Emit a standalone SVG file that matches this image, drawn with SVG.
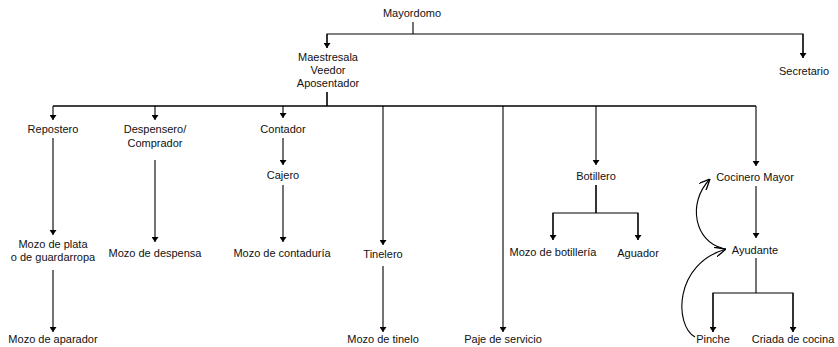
<svg xmlns="http://www.w3.org/2000/svg" width="838" height="347" viewBox="0 0 838 347">
<style>
text{font-family:"Liberation Sans",Arial,sans-serif;font-size:11px;fill:#111;text-anchor:middle}
.c line,.c polyline,.c path{stroke:#000;stroke-width:1.1;fill:none}
.c .a{marker-end:url(#ah)}
.c .o{marker-end:url(#oh)}
</style>
<defs>
<marker id="ah" viewBox="0 0 10 10" refX="10" refY="5" markerWidth="5" markerHeight="7" markerUnits="userSpaceOnUse" orient="auto" preserveAspectRatio="none"><path d="M0,0 L10,5 L0,10 Z" fill="#000"/></marker>
<marker id="oh" viewBox="0 0 10 10" refX="10" refY="5" markerWidth="11" markerHeight="10" markerUnits="userSpaceOnUse" orient="auto" preserveAspectRatio="none"><path d="M0,0 L10,5 L0,10" fill="none" stroke="#000" stroke-width="1.3"/></marker>
</defs>
<rect width="838" height="347" fill="#fff"/>
<g class="c" id="connectors">
<line x1="413" y1="22" x2="413" y2="34"/>
<polyline points="327,48 327,34 803,34 803,58" class="a" style="marker-end:none"/>
<line class="a" x1="327" y1="34" x2="327" y2="48"/>
<line class="a" x1="803" y1="34" x2="803" y2="58"/>
<line x1="327" y1="92" x2="327" y2="106" style="stroke-width:1.6"/>
<line x1="53" y1="106" x2="756" y2="106" style="stroke-width:1.4"/>
<line class="a" x1="53" y1="106" x2="53" y2="120"/>
<line class="a" x1="155" y1="106" x2="155" y2="120"/>
<line class="a" x1="283" y1="106" x2="283" y2="118"/>
<line class="a" x1="383" y1="106" x2="383" y2="245"/>
<line class="a" x1="503" y1="106" x2="503" y2="332"/>
<line class="a" x1="596" y1="106" x2="596" y2="165"/>
<line class="a" x1="756" y1="106" x2="756" y2="166"/>
<line class="a" x1="53" y1="138" x2="53" y2="235"/>
<line class="a" x1="53" y1="270" x2="53" y2="332"/>
<line class="a" x1="155" y1="160" x2="155" y2="242"/>
<line class="a" x1="283" y1="138" x2="283" y2="165"/>
<line class="a" x1="283" y1="185" x2="283" y2="242"/>
<line class="a" x1="383" y1="266" x2="383" y2="332"/>
<line x1="596" y1="185" x2="596" y2="213" style="stroke-width:1.6"/>
<polyline class="a" points="553,240 553,213 638,213 638,240" style="marker-end:none"/>
<line class="a" x1="553" y1="213" x2="553" y2="240"/>
<line class="a" x1="638" y1="213" x2="638" y2="240"/>
<line class="a" x1="756" y1="186" x2="756" y2="238"/>
<line x1="756" y1="258" x2="756" y2="293"/>
<polyline points="713,332 713,293 793,293 793,332"/>
<line class="a" x1="713" y1="293" x2="713" y2="332"/>
<line class="a" x1="793" y1="293" x2="793" y2="332"/>
<path class="o" d="M722,248 C696,242 686,204 710,179"/>
<path class="o" d="M695,337 C674,325 674,264 726,249"/>
</g>
<g id="n-mayordomo"><text x="412" y="17">Mayordomo</text></g>
<g id="n-maestresala"><text x="328" y="61">Maestresala</text><text x="328" y="74">Veedor</text><text x="328" y="87">Aposentador</text></g>
<g id="n-secretario"><text x="804" y="75">Secretario</text></g>
<g id="n-repostero"><text x="53" y="133">Repostero</text></g>
<g id="n-despensero"><text x="155" y="133">Despensero/</text><text x="155" y="147">Comprador</text></g>
<g id="n-contador"><text x="283" y="133">Contador</text></g>
<g id="n-cajero"><text x="283" y="179">Cajero</text></g>
<g id="n-botillero"><text x="596" y="180">Botillero</text></g>
<g id="n-cocinero"><text x="755" y="181">Cocinero Mayor</text></g>
<g id="n-mozoplata"><text x="53" y="248">Mozo de plata</text><text x="53" y="261">o de guardarropa</text></g>
<g id="n-mozodespensa"><text x="155" y="257">Mozo de despensa</text></g>
<g id="n-mozocontaduria"><text x="282" y="257">Mozo de contaduría</text></g>
<g id="n-tinelero"><text x="383" y="258">Tinelero</text></g>
<g id="n-mozobotilleria"><text x="553" y="256">Mozo de botillería</text></g>
<g id="n-aguador"><text x="638" y="257">Aguador</text></g>
<g id="n-ayudante"><text x="755" y="254">Ayudante</text></g>
<g id="n-mozoaparador"><text x="53" y="343">Mozo de aparador</text></g>
<g id="n-mozotinelo"><text x="383" y="343">Mozo de tinelo</text></g>
<g id="n-paje"><text x="503" y="343">Paje de servicio</text></g>
<g id="n-pinche"><text x="713" y="343">Pinche</text></g>
<g id="n-criada"><text x="793" y="343">Criada de cocina</text></g>
</svg>
